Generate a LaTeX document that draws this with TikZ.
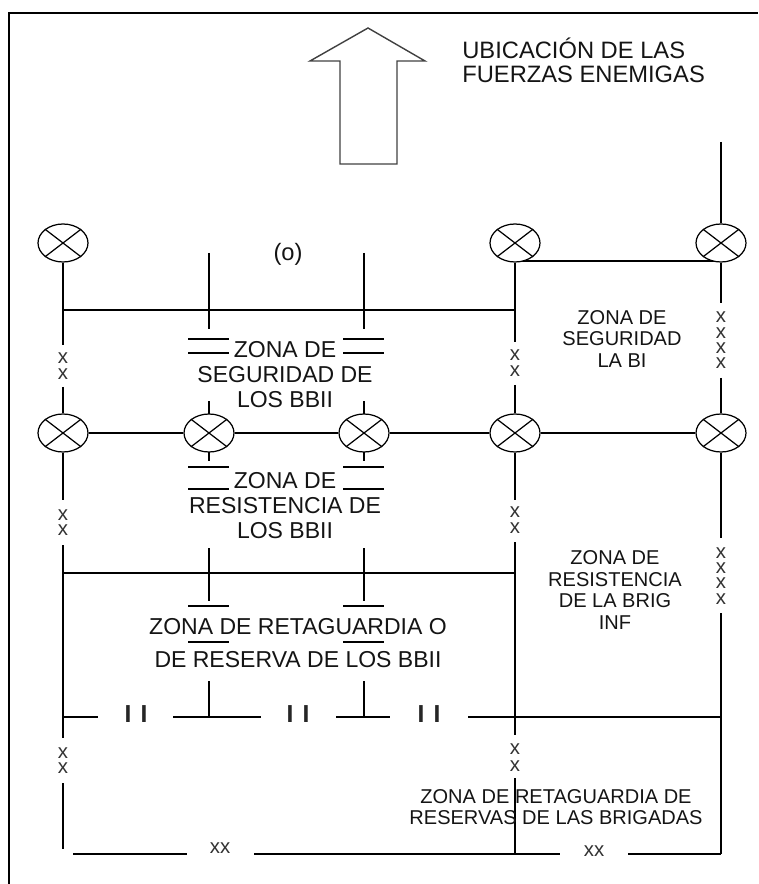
\documentclass[tikz,border=0pt]{standalone}
\usepackage{fontspec}
\setmainfont{Liberation Sans}
\usetikzlibrary{shapes.geometric}
\pgfdeclarelayer{bg}
\pgfsetlayers{bg,main}
\begin{document}
\begin{tikzpicture}[x=0.02cm,y=-0.02cm,
  ln/.style={line width=0.75pt, draw=black},
  xo/.style={ellipse, draw=black, fill=white, minimum width=1cm, minimum height=0.76cm, inner sep=0pt, line width=0.7pt},
  big/.style={font=\fontsize{13.1}{14.2}\selectfont, align=center, inner sep=0pt, text=black!92},
  sml/.style={font=\fontsize{11.4}{12.4}\selectfont, align=center, inner sep=0pt, text=black!92},
  xl/.style={font=\fontsize{11.6}{12}\selectfont, inner sep=0pt, text=black!80},
  bars/.style={font=\fontsize{14}{16}\selectfont\bfseries, inner sep=0pt, text=black!85}
]
\useasboundingbox (0,0) rectangle (758,884);

% frame
\draw[line width=1.15pt] (9,884) -- (9,13) -- (758,13);

% arrow
\draw[line width=0.8pt, draw=black!75, line join=miter] (340,164) -- (340,61) -- (310,61) -- (368,28) -- (425,61) -- (397,61) -- (397,164) -- cycle;

% title
\node[font=\fontsize{13.5}{13.7}\selectfont, align=left, anchor=west, inner sep=0pt, text=black!92] (title) at (462,60) {UBICACIÓN DE LAS\\FUERZAS ENEMIGAS};

% circles
\node[xo] (A1) at (63,243) {};
\node[xo] (A4) at (515,243) {};
\node[xo] (A5) at (721,243) {};
\node[xo] (B1) at (63,433) {};
\node[xo] (B2) at (209,433) {};
\node[xo] (B3) at (364,433) {};
\node[xo] (B4) at (515,433) {};
\node[xo] (B5) at (721,433) {};
\foreach \n in {A1,A4,A5,B1,B2,B3,B4,B5}
  \draw[line width=0.7pt] (\n.north west) -- (\n.south east) (\n.north east) -- (\n.south west);

% row lines
\draw[ln] (B1) -- (B2) (B2) -- (B3) (B3) -- (B4) (B4) -- (B5);
\coordinate (r1a) at (515,261);
\coordinate (r1b) at (721,261);
\begin{pgfonlayer}{bg}
\draw[ln] (r1a) -- (r1b);
\end{pgfonlayer}

% x marks (each one its own node)
\foreach \px/\py [count=\k] in {63/358,63/374,63/515,63/530,63/753,63/768,
   515/355,515/371,515/512,515/528,515/749,515/766,
   721/317,721/333,721/348,721/363,721/553,721/568,721/583,721/599}
  \node[xl] (xm\k) at (\px,\py) {x};

% left column
\coordinate (L1) at (63,345);
\coordinate (L2) at (63,387);
\coordinate (L3) at (63,500);
\coordinate (L4) at (63,545);
\coordinate (L5) at (63,738);
\coordinate (L6) at (63,783);
\coordinate (L7) at (63,849);
\draw[ln] (A1) -- (L1) (L2) -- (B1) (B1) -- (L3) (L4) -- (L5) (L6) -- (L7);

% middle column
\coordinate (M1) at (515,342);
\coordinate (M2) at (515,385);
\coordinate (M3) at (515,500);
\coordinate (M4) at (515,542);
\coordinate (M5) at (515,735);
\coordinate (M6) at (515,778);
\coordinate (M7) at (515,854);
\draw[ln] (A4) -- (M1) (M2) -- (B4) (B4) -- (M3) (M4) -- (M5) (M6) -- (M7);

% right column
\coordinate (R0) at (721,142);
\coordinate (R1) at (721,303);
\coordinate (R2) at (721,378);
\coordinate (R3) at (721,538);
\coordinate (R4) at (721,613);
\coordinate (R5) at (721,854);
\draw[ln] (R0) -- (A5) (A5) -- (R1) (R2) -- (B5) (B5) -- (R3) (R4) -- (R5);

% horizontal boundaries
\coordinate (H1a) at (63,310); \coordinate (H1b) at (515,310);
\coordinate (H2a) at (63,573); \coordinate (H2b) at (515,573);
\draw[ln] (H1a) -- (H1b) (H2a) -- (H2b);

% II row
\coordinate (I0) at (63,717); \coordinate (I1) at (98,717);
\coordinate (I2) at (173,717); \coordinate (I3) at (261,717);
\coordinate (I4) at (336,717); \coordinate (I5) at (390,717);
\coordinate (I6) at (468,717); \coordinate (I7) at (721,717);
\draw[ln] (I0) -- (I1) (I2) -- (I3) (I4) -- (I5) (I6) -- (I7);
\node[bars] (II1) at (136,714) {I\hspace{5.2pt}I};
\node[bars] (II2) at (298,714) {I\hspace{5.2pt}I};
\node[bars] (II3) at (429,714) {I\hspace{5.2pt}I};

% bottom
\coordinate (Bt0) at (73,854); \coordinate (Bt1) at (187,854);
\coordinate (Bt2) at (254,854); \coordinate (Bt3) at (560,854);
\coordinate (Bt4) at (628,854);
\draw[ln] (Bt0) -- (Bt1) (Bt2) -- (Bt3) (Bt4) -- (R5);
\node[xl] (xx1) at (220,848) {xx};
\node[xl] (xx2) at (594,851) {xx};

% BBII columns
\foreach \c in {209,364} {
  \draw[ln] (\c,253) -- (\c,329);
  \draw[ln] (\c-21,339) -- (\c+20,339) (\c-21,353) -- (\c+20,353);
  \draw[ln] (\c,401) -- (\c,414);
  \draw[ln] (\c,452) -- (\c,461);
  \draw[ln] (\c-21,467) -- (\c+20,467) (\c-21,489) -- (\c+20,489);
  \draw[ln] (\c,548) -- (\c,601);
  \draw[ln] (\c-21,606) -- (\c+20,606) (\c-21,642) -- (\c+20,642);
  \draw[ln] (\c,681) -- (\c,717);
}

% texts
\node[font=\fontsize{13.5}{15}\selectfont, inner sep=0pt, text=black!92] (o) at (288,254) {(o)};
\node[big] (T1) at (285,375) {ZONA DE\\SEGURIDAD DE\\LOS BBII};
\node[big] (T2) at (285,506) {ZONA DE\\RESISTENCIA DE\\LOS BBII};
\node[big, font=\fontsize{13.1}{18.8}\selectfont] (T3) at (298,643) {ZONA DE RETAGUARDIA O\\DE RESERVA DE LOS BBII};
\node[sml, font=\fontsize{11.4}{12.5}\selectfont] (T4) at (622,339) {ZONA DE\\SEGURIDAD\\LA BI};
\node[sml, font=\fontsize{11.4}{12.3}\selectfont] (T5) at (615,590) {ZONA DE\\RESISTENCIA\\DE LA BRIG\\INF};
\node[sml, font=\fontsize{11.4}{12}\selectfont] (T6) at (556,807) {ZONA DE RETAGUARDIA DE\\RESERVAS DE LAS BRIGADAS};
\end{tikzpicture}
\end{document}
